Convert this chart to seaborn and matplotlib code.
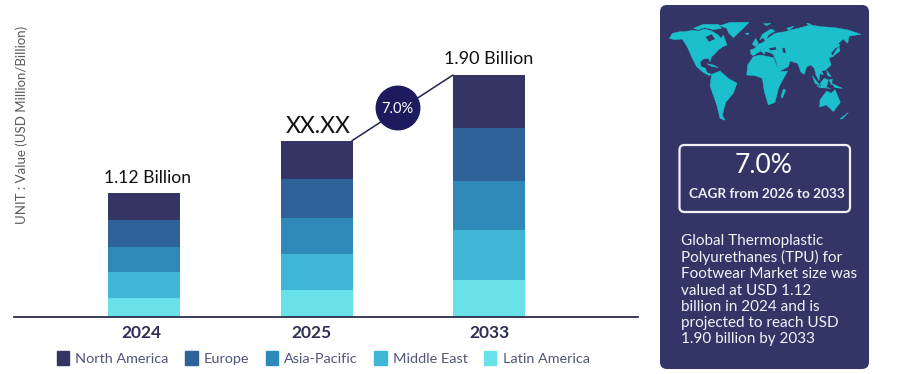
import matplotlib
matplotlib.use("Agg")
import matplotlib.pyplot as plt
from matplotlib.patches import FancyBboxPatch, Polygon, Ellipse, Patch
import pandas as pd
import seaborn as sns

years = ["2024", "2025", "2033"]
regions = ["Latin America", "Middle East", "Asia-Pacific", "Europe", "North America"]
latin_america = [0.152, 0.214, 0.293]
middle_east = [0.199, 0.283, 0.390]
asia_pacific = [0.199, 0.280, 0.385]
europe = [0.212, 0.304, 0.416]
north_america = [0.214, 0.303, 0.416]
bar_labels = ["1.12 Billion", "XX.XX", "1.90 Billion"]
legend_order = ["North America", "Europe", "Asia-Pacific", "Middle East", "Latin America"]
colors = {"North America": "#343565", "Europe": "#30629a", "Asia-Pacific": "#2e88b8",
          "Middle East": "#3fb6d6", "Latin America": "#68e2e8"}
series = dict(zip(regions, [latin_america, middle_east, asia_pacific, europe, north_america]))
df = pd.DataFrame(series, index=years).rename_axis("year").reset_index()

W, H = 900, 374
sns.set_theme(style="white")
plt.rcParams["font.family"] = ["Lato", "DejaVu Sans"]
fig = plt.figure(figsize=(W / 100, H / 100), dpi=100, facecolor="white")
ax = fig.add_axes([14 / W, 1 - 317 / H, 624 / W, 317 / H])

bottom = [0.0, 0.0, 0.0]
for r in regions:
    sns.barplot(data=df, x="year", y=r, bottom=bottom, color=colors[r], width=0.418,
                saturation=1, ax=ax, linewidth=0)
    bottom = [b + v for b, v in zip(bottom, series[r])]

ax.set_xlim(-0.757, 2.865)
ax.set_ylim(0, 2.489)
ax.set_xlabel("")
ax.set_ylabel("")
ax.set_yticks([])
ax.set_xticks([-0.02, 0.97, 2.005], years)
ax.tick_params(axis="x", length=0, pad=6)
for t in ax.get_xticklabels():
    t.set_fontsize(12.5)
    t.set_fontweight("bold")
    t.set_color("#2f2f55")
for s in ["top", "left", "right"]:
    ax.spines[s].set_visible(False)
ax.spines["bottom"].set_color("#2b2b50")
ax.spines["bottom"].set_linewidth(1.3)
ax.patch.set_alpha(0)

# value labels
offs = [(0.02, 5), (0.01, 2.5), (0.0, 6)]
sizes = [12.6, 16.6, 13]
for i, lab in enumerate(bar_labels):
    ax.annotate(lab, (i + offs[i][0], bottom[i]), xytext=(0, offs[i][1]), textcoords="offset points",
                ha="center", va="bottom", fontsize=sizes[i], color="#111111")

# legend
handles = [Patch(color=colors[r], label=r) for r in legend_order]
ax.legend(handles=handles, ncols=5, loc="center left", frameon=False,
          bbox_to_anchor=(43 / 624, -41 / 317), fontsize=10.4, labelcolor="#50557a",
          handlelength=0.85, handleheight=1.05, handletextpad=0.42, columnspacing=1.15, borderpad=0, borderaxespad=0)

fig.text(21.5 / W, 1 - 124.5 / H, "UNIT : Value (USD Million/Billion)", rotation=90, ha="center", va="center",
         fontsize=9.5, color="#5a5a5a")

# overlay in image pixels
ov = fig.add_axes([0, 0, 1, 1], zorder=5)
ov.set_xlim(0, W)
ov.set_ylim(H, 0)
ov.axis("off")

# growth connector
ov.plot([352, 453], [140.7, 75], color="#23234f", lw=1.1, zorder=1)
ov.add_patch(Ellipse((398, 108), 43.5, 43.5, color="#1b1b5e", zorder=2))
ov.text(397.5, 108.5, "7.0%", color="white", ha="center", va="center", fontsize=10.5, zorder=3)

# side panel
panel_col = "#333566"
ov.add_patch(FancyBboxPatch((660, 5), 209, 364, boxstyle="round,pad=0,rounding_size=7", lw=0, fc=panel_col))
ov.add_patch(FancyBboxPatch((679.5, 145), 170.5, 67, boxstyle="round,pad=0,rounding_size=5", lw=1.6,
                            ec="#f2f2f6", fc="none"))
ov.text(763.5, 165, "7.0%", color="white", ha="center", va="center", fontsize=19)
ov.text(767, 194, "CAGR from 2026 to 2033", color="#eef0f5", ha="center", va="center", fontsize=9.8, fontweight="bold")
para = ("Global Thermoplastic\nPolyurethanes (TPU) for\nFootwear Market size was\nvalued at USD 1.12\n"
        "billion in 2024 and is\nprojected to reach USD\n1.90 billion by 2033")
ov.text(681, 234, para, color="#f2f3f8", ha="left", va="top", fontsize=11.0, linespacing=1.19)

# world-map silhouette (decorative)
map_col = "#1cc0cc"
def west(pts):
    return [(665 + x / 3, 15 + y / 3) for x, y in pts]
def east(pts):
    return [(755 + x / 3, 15 + y / 3) for x, y in pts]
land = [
    west([(13,70),(22,55),(45,50),(62,50),(80,46),(100,48),(120,42),(140,48),(160,60),(168,70),(175,60),(186,90),(172,96),(160,105),(150,116),(140,125),(135,140),(130,130),(115,132),(105,142),(108,155),(122,160),(125,172),(140,178),(132,182),(112,170),(95,155),(82,130),(68,98),(52,72),(28,74)]),
    west([(85,40),(115,28),(160,28),(170,40),(145,44),(120,38),(100,44)]),
    west([(165,32),(195,22),(252,22),(235,40),(205,68),(192,55),(185,40)]),
    west([(140,178),(165,168),(190,190),(216,205),(205,235),(182,262),(172,300),(180,316),(165,310),(156,272),(135,212)]),
    west([(125,146),(145,150),(160,158),(140,154)]),
    west([(240,55),(252,54),(248,60)]),
    west([(262,88),(272,70),(280,85),(272,95)]),
    east([(-5,125),(15,120),(56,128),(66,155),(78,170),(98,168),(72,215),(60,262),(40,270),(28,230),(22,190),(0,182),(-25,180),(-22,150)]),
    east([(14,75),(22,58),(48,42),(60,48),(40,60),(32,78),(24,68)]),
    east([(-12,118),(-14,105),(0,100),(10,88),(25,82),(35,72),(60,55),(90,50),(105,45),(130,40),(165,30),(200,35),(240,38),(280,45),(318,58),(290,62),(282,64),(278,85),(265,72),(250,85),(255,92),(240,100),(228,115),(235,125),(222,128),(228,150),(212,165),(200,168),(205,180),(195,175),(192,197),(183,180),(178,160),(168,150),(155,155),(148,178),(138,172),(128,145),(105,138),(100,155),(72,170),(62,135),(55,118),(42,112),(30,110),(28,118),(18,108),(5,115),(-5,122)]),
    east([(195,255),(215,228),(228,235),(240,224),(256,262),(235,290),(215,270),(194,276)]),
    east([(172,182),(195,212),(180,205)]),
    east([(195,205),(208,190),(220,195),(215,215),(200,218)]),
    east([(185,212),(228,220),(195,218)]),
    east([(222,195),(232,192),(230,210)]),
    east([(230,205),(262,220),(240,218)]),
    east([(215,165),(228,185),(218,182)]),
    east([(240,110),(252,95),(255,108),(232,125)]),
    east([(85,222),(92,225),(82,250),(78,245)]),
    east([(255,312),(280,292),(262,312)]),
    east([(25,26),(48,25),(35,32)]),
    east([(95,40),(118,33),(102,45)]),
    east([(155,24),(170,28),(160,30)]),
]
for pts in land:
    ov.add_patch(Polygon(pts, closed=True, fc=map_col, ec=map_col, lw=0.3))
for hole in [west([(122,66),(140,58),(150,72),(132,80)]),
             east([(42,100),(62,96),(64,104),(46,106)]),
             east([(82,98),(90,100),(92,115),(84,112)])]:
    ov.add_patch(Polygon(hole, closed=True, fc=panel_col, lw=0))

fig.savefig("out.png", dpi=100)
